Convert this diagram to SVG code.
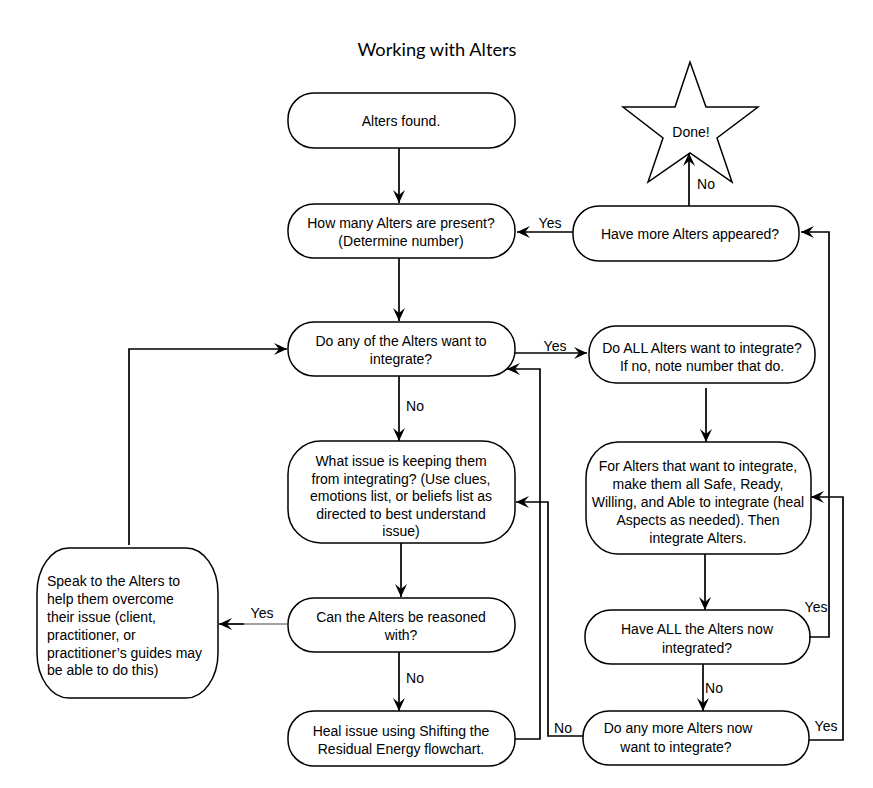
<svg xmlns="http://www.w3.org/2000/svg" width="873" height="788" viewBox="0 0 873 788">
<style>
.n{fill:#fff;stroke:#000;stroke-width:1.5}
.t{font-family:"Liberation Sans",Arial,sans-serif;font-size:14px;fill:#000;text-anchor:middle}
.l{font-family:"Liberation Sans",Arial,sans-serif;font-size:14px;fill:#000}
.e{fill:none;stroke:#000;stroke-width:1.7}
.title{font-family:Lato,"Open Sans",sans-serif;font-size:18px;fill:#000;text-anchor:middle}
</style>
<defs>
<marker id="a" markerUnits="userSpaceOnUse" markerWidth="14" markerHeight="13" refX="13" refY="6" orient="auto">
<path d="M0,0 L13,6 L0,12 L5,6 Z" fill="#000"/>
</marker>
</defs>
<rect width="873" height="788" fill="#fff"/>
<text class="title" x="437" y="56" textLength="159" lengthAdjust="spacingAndGlyphs">Working with Alters</text>

<g id="n1"><rect class="n" x="288" y="93" width="227" height="55" rx="26" ry="26"/><text class="t" x="401" y="126">Alters found.</text></g>
<g id="n2"><rect class="n" x="288" y="204" width="227" height="54" rx="26" ry="26"/><text class="t" x="401" y="227.5">How many Alters are present?</text><text class="t" x="401" y="246">(Determine number)</text></g>
<g id="n3"><rect class="n" x="288" y="322" width="227" height="54" rx="26" ry="26"/><text class="t" x="401" y="345.5">Do any of the Alters want to</text><text class="t" x="401" y="364">integrate?</text></g>
<g id="n4"><rect class="n" x="288" y="441" width="227" height="102" rx="33" ry="33"/><text class="t" x="401" y="466">What issue is keeping them</text><text class="t" x="401" y="483.5">from integrating? (Use clues,</text><text class="t" x="401" y="501">emotions list, or beliefs list as</text><text class="t" x="401" y="518.5">directed to best understand</text><text class="t" x="401" y="536">issue)</text></g>
<g id="n5"><rect class="n" x="288" y="598" width="227" height="54" rx="26" ry="26"/><text class="t" x="401" y="622">Can the Alters be reasoned</text><text class="t" x="401" y="640">with?</text></g>
<g id="n6"><rect class="n" x="288" y="711" width="227" height="55" rx="26" ry="26"/><text class="t" x="401" y="736">Heal issue using Shifting the</text><text class="t" x="401" y="754">Residual Energy flowchart.</text></g>
<g id="n7"><rect class="n" x="37" y="548" width="181" height="150" rx="32" ry="45"/><text class="l" x="47" y="586">Speak to the Alters to</text><text class="l" x="47" y="604">help them overcome</text><text class="l" x="47" y="622">their issue (client,</text><text class="l" x="47" y="640">practitioner, or</text><text class="l" x="47" y="657.5">practitioner’s guides may</text><text class="l" x="47" y="675">be able to do this)</text></g>
<g id="n8"><polygon class="n" points="690,62 706,107 758,107 717,138 732,182 690,153 648,182 663,138 623,107 675,107"/><text class="t" x="691" y="137">Done!</text></g>
<g id="n9"><rect class="n" x="573" y="206" width="226" height="55" rx="26" ry="26"/><text class="t" x="690" y="239">Have more Alters appeared?</text></g>
<g id="n10"><rect class="n" x="589" y="326" width="226" height="57" rx="27" ry="27"/><text class="t" x="702" y="352.5">Do ALL Alters want to integrate?</text><text class="t" x="702" y="370.5">If no, note number that do.</text></g>
<g id="n11"><rect class="n" x="586" y="442" width="225" height="112" rx="32" ry="36"/><text class="t" x="698" y="471">For Alters that want to integrate,</text><text class="t" x="698" y="489">make them all Safe, Ready,</text><text class="t" x="698" y="507">Willing, and Able to integrate (heal</text><text class="t" x="698" y="525">Aspects as needed). Then</text><text class="t" x="698" y="542.5">integrate Alters.</text></g>
<g id="n12"><rect class="n" x="585" y="610" width="225" height="54" rx="26" ry="26"/><text class="t" x="697" y="634">Have ALL the Alters now</text><text class="t" x="697" y="652.5">integrated?</text></g>
<g id="n13"><rect class="n" x="583" y="711" width="226" height="54" rx="26" ry="26"/><text class="t" x="678" y="733">Do any more Alters now</text><text class="t" x="676" y="752">want to integrate?</text></g>

<g id="connectors">
<path class="e" d="M399,148 V203" marker-end="url(#a)"/>
<path class="e" d="M399,258 V321" marker-end="url(#a)"/>
<path class="e" d="M399,376 V441" marker-end="url(#a)"/>
<path class="e" d="M401,543 V597" marker-end="url(#a)"/>
<path class="e" d="M399,652 V711" marker-end="url(#a)"/>
<path d="M288,624 H244" fill="none" stroke="#444" stroke-width="1"/>
<path class="e" d="M244,624 H219" marker-end="url(#a)"/>
<path class="e" d="M129,545 V349 H287" marker-end="url(#a)"/>
<path class="e" d="M515,353 H587" marker-end="url(#a)"/>
<path class="e" d="M706,388 V442" marker-end="url(#a)"/>
<path class="e" d="M705,554 V610" marker-end="url(#a)"/>
<path class="e" d="M703,664 V711" marker-end="url(#a)"/>
<path class="e" d="M809,637 H829 V232 H801" marker-end="url(#a)"/>
<path class="e" d="M809,740 H843 V497 H811" marker-end="url(#a)"/>
<path class="e" d="M515,739 H540 V369 H507" marker-end="url(#a)"/>
<path class="e" d="M583,736 H548 V502 H516" marker-end="url(#a)"/>
<path class="e" d="M573,232 H517" marker-end="url(#a)"/>
<path class="e" d="M689,206 V153" marker-end="url(#a)"/>
<text class="t" x="550" y="228">Yes</text>
<text class="t" x="706" y="189">No</text>
<text class="t" x="555" y="351">Yes</text>
<text class="t" x="415" y="411">No</text>
<text class="t" x="262" y="618">Yes</text>
<text class="t" x="415" y="683">No</text>
<text class="t" x="816" y="612">Yes</text>
<text class="t" x="714" y="693">No</text>
<text class="t" x="563" y="733">No</text>
<text class="t" x="826" y="731">Yes</text>
</g>
</svg>
